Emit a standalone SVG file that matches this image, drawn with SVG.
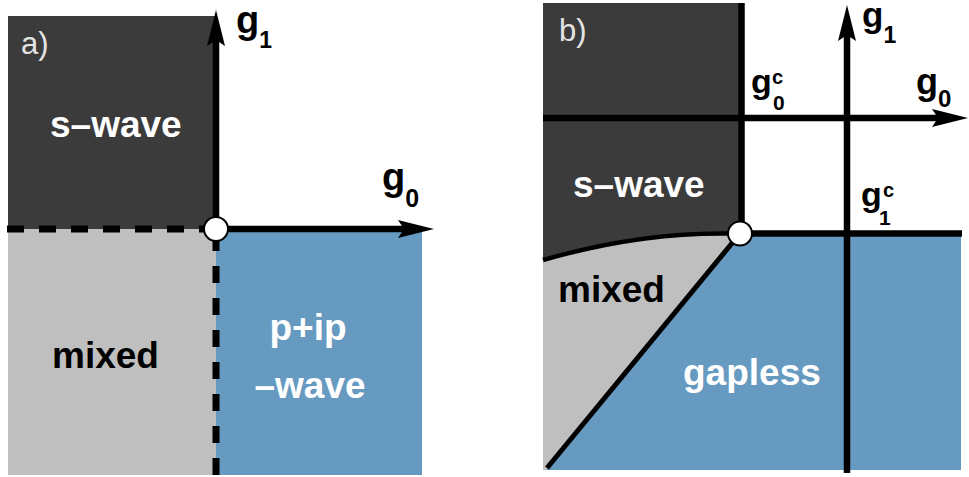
<svg xmlns="http://www.w3.org/2000/svg" width="969" height="477" viewBox="0 0 969 477">
<style>
.dark{fill:#3b3b3b}
.gray{fill:#bfbfbf}
.blue{fill:#669ac0}
.ax{stroke:#000;stroke-width:6.5;fill:none}
.dash{stroke:#000;stroke-width:7;fill:none;stroke-dasharray:17 15}
.pt{fill:#fff;stroke:#000;stroke-width:2}
.lbl{font-family:"Liberation Sans",Arial,sans-serif;font-weight:bold;font-size:37px}
.w{fill:#fff}
.k{fill:#000}
.g{font-family:"Liberation Sans",Arial,sans-serif;font-weight:bold;fill:#000}
.pan{font-family:"Liberation Sans",Arial,sans-serif;font-size:31px;fill:#e4e4e4}
</style>
<defs>
<marker id="ah" markerUnits="userSpaceOnUse" markerWidth="40" markerHeight="20" refX="6" refY="9" orient="auto">
<path d="M0,0 L36,9 L0,18 L6,9 Z" fill="#000"/>
</marker>
</defs>

<!-- Panel a -->
<g id="a-swave">
<rect class="dark" x="8" y="16" width="208" height="213"/>
<text class="lbl w" x="50" y="137">s–wave</text>
<text class="pan" x="21" y="54">a)</text>
</g>
<g id="a-mixed">
<rect class="gray" x="8" y="229" width="208" height="246"/>
<text class="lbl k" x="52" y="368">mixed</text>
</g>
<g id="a-pip">
<rect class="blue" x="216" y="229" width="206" height="246"/>
<text class="lbl w" x="308" y="340" text-anchor="middle">p+ip</text>
<text class="lbl w" x="310" y="398" text-anchor="middle">–wave</text>
</g>

<!-- Panel b -->
<g id="b-swave">
<rect class="dark" x="543" y="3" width="198" height="260"/>
<text class="lbl w" x="573" y="197">s–wave</text>
<text class="pan" x="559" y="41">b)</text>
</g>
<g id="b-mixed">
<path class="gray" d="M543,260 Q640,232 740,233.5 L546,470 L543,470 Z"/>
<text class="lbl k" x="558" y="302">mixed</text>
</g>
<g id="b-gapless">
<path class="blue" d="M546,470 L740,233.5 L961,233.5 L961,470 Z"/>
<text class="lbl w" x="683" y="385">gapless</text>
</g>

<g id="connectors">
<!-- panel a -->
<path class="dash" d="M7,229 H205"/>
<path class="dash" d="M216,475 V241"/>
<path class="ax" d="M216,229 V40" marker-end="url(#ah)"/>
<path class="ax" d="M216,229 H404" marker-end="url(#ah)"/>
<!-- panel b -->
<path class="ax" d="M543,118 H938" marker-end="url(#ah)"/>
<path class="ax" d="M847,473 V35" marker-end="url(#ah)"/>
<path class="ax" d="M741.5,3 V233.5"/>
<path class="ax" d="M740,233.5 H962"/>
<path class="ax" style="stroke-width:5" d="M740,233.5 L547,468"/>
<path class="ax" style="stroke-width:4.5" d="M543,260 Q640,232 730,233.5"/>
</g>

<g id="a-origin"><circle class="pt" cx="216" cy="229" r="12"/></g>
<g id="b-point"><circle class="pt" cx="740" cy="233.5" r="12"/></g>

<g id="axis-labels">
<text class="g" x="236" y="33" font-size="38">g<tspan font-size="23" dy="15">1</tspan></text>
<text class="g" x="382" y="190" font-size="38">g<tspan font-size="25" dy="17">0</tspan></text>
<text class="g" x="862" y="27" font-size="35">g<tspan font-size="23" dy="16">1</tspan></text>
<text class="g" x="916" y="94" font-size="36">g<tspan font-size="24" dy="13">0</tspan></text>
<text class="g" x="751" y="93" font-size="34">g</text>
<text class="g" x="772" y="84" font-size="20">c</text>
<text class="g" x="773" y="110" font-size="21">0</text>
<text class="g" x="861" y="206" font-size="34">g</text>
<text class="g" x="883" y="197" font-size="20">c</text>
<text class="g" x="879" y="225" font-size="21">1</text>
</g>
</svg>
